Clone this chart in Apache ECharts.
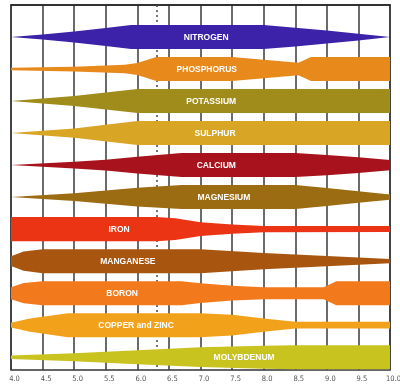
<!DOCTYPE html>
<html>
<head>
<meta charset="utf-8">
<script src="https://cdn.jsdelivr.net/npm/echarts@6/dist/echarts.min.js"></script>
<style>
html,body{margin:0;padding:0;background:#fff;}
#chart{width:400px;height:387px;}
</style>
</head>
<body>
<div id="chart"></div>
<script>
// Nutrient names (top to bottom)
const nutrients = ['NITROGEN','PHOSPHORUS','POTASSIUM','SULPHUR','CALCIUM','MAGNESIUM','IRON','MANGANESE','BORON','COPPER and ZINC','MOLYBDENUM'];
// pH tick labels
const phTicks = [4.0,4.5,5.0,5.5,6.0,6.5,7.0,7.5,8.0,8.5,9.0,9.5,10.0];
// Relative availability (band thickness, 0..1) at pH breakpoints: [pH, availability]
const nitrogen   = [[4.0,0],[4.5,0.2],[5.0,0.45],[5.5,0.75],[5.9,1],[8.0,1],[8.5,0.78],[9.0,0.55],[9.5,0.28],[10.0,0]];
const phosphorus = [[4.0,0.1],[5.0,0.2],[5.8,0.35],[6.0,0.5],[6.3,1],[7.5,1],[8.55,0.52],[8.75,1],[10.0,1]];
const potassium  = [[4.0,0],[5.0,0.42],[6.0,1],[10.0,1]];
const sulphur    = [[4.0,0],[5.0,0.38],[6.0,1],[10.0,1]];
const calcium    = [[4.0,0],[5.0,0.28],[5.5,0.45],[6.0,0.7],[6.7,1],[8.5,1],[9.0,0.85],[9.5,0.65],[10.0,0.42]];
const magnesium  = [[4.0,0],[5.0,0.33],[6.0,0.78],[6.7,1],[8.5,1],[9.0,0.75],[9.5,0.48],[10.0,0.22]];
const iron       = [[4.0,1],[6.3,1],[6.6,0.9],[7.0,0.57],[7.5,0.38],[8.0,0.27],[10.0,0.25]];
const manganese  = [[4.0,0.4],[4.2,0.8],[4.5,1],[7.0,1],[8.0,0.68],[9.0,0.42],[10.0,0.17]];
const boron      = [[4.0,0.5],[4.2,0.85],[4.5,1],[6.7,1],[7.0,0.82],[7.5,0.62],[8.0,0.5],[8.95,0.5],[9.15,1],[10.0,1]];
const copperZinc = [[4.0,0.2],[4.3,0.55],[4.9,1],[7.0,1],[7.5,0.87],[8.0,0.55],[8.5,0.28],[10.0,0.28]];
const molybdenum = [[4.0,0.15],[5.0,0.33],[6.0,0.58],[7.0,0.82],[8.0,0.96],[8.5,1],[10.0,1]];

const profiles = [nitrogen,phosphorus,potassium,sulphur,calcium,magnesium,iron,manganese,boron,copperZinc,molybdenum];
const colors = ['#3b22a8','#e8891c','#a08c1a','#d8a624','#a8121c','#9c6c12','#ea3414','#a8560f','#f27a1c','#f2a21a','#c9c31f'];
const labelPh = [7.09,7.1,7.17,7.23,7.25,7.37,5.71,5.85,5.76,5.98,7.69];
const HALF = 0.375; // half thickness of a full band in row units

const chart = echarts.init(document.getElementById('chart'), null, {renderer:'canvas'});

function renderBand(params, api){
  const i = params.dataIndex;
  const prof = profiles[i];
  const c = i + 1;
  const top = prof.map(p => api.coord([p[0], c - p[1]*HALF]));
  const bot = prof.slice().reverse().map(p => api.coord([p[0], c + p[1]*HALF]));
  const lp = api.coord([labelPh[i], c]);
  return {
    type:'group',
    children:[
      {type:'polygon', shape:{points: top.concat(bot)}, style:{fill: colors[i]}},
      {type:'text', style:{text: nutrients[i], x: lp[0], y: lp[1]+0.5, fill:'#fff',
        font:'bold 8.5px "Liberation Sans", Arial, sans-serif', align:'center', verticalAlign:'middle'}}
    ]
  };
}

chart.setOption({
  animation:false,
  backgroundColor:'#fff',
  grid:{left:11, right:10, top:5, bottom:17, containLabel:false, outerBoundsMode:'none',
    show:true, borderColor:'#333', borderWidth:1.5, backgroundColor:'transparent'},
  xAxis:{
    type:'value', min:4, max:10, interval:0.5,
    axisLine:{show:true, lineStyle:{color:'#222', width:1.5}},
    axisTick:{show:false},
    axisLabel:{show:true, color:'#555', fontSize:7.5, margin:5, padding:[0,0,0,7],
      fontFamily:'"DejaVu Sans Condensed", "Liberation Sans Narrow", sans-serif',
      formatter: v => { const t = phTicks.find(x => Math.abs(x-v) < 1e-6); return t === undefined ? '' : t.toFixed(1); }},
    splitLine:{show:true, lineStyle:{color:'#3a3a3a', width:1.5}}
  },
  yAxis:{
    type:'value', min:0, max:11.4, inverse:true,
    axisLine:{show:false}, axisTick:{show:false}, axisLabel:{show:false}, splitLine:{show:false}
  },
  series:[
    {
      type:'line', data:[], silent:true, z:1,
      markLine:{symbol:'none', silent:true, label:{show:false},
        lineStyle:{color:'#444', type:[2,3], width:1.5},
        data:[{xAxis:6.3}]}
    },
    {
      type:'custom', z:5, clip:true,
      renderItem: renderBand,
      data: nutrients.map((n,i) => [i])
    }
  ]
});
</script>
</body>
</html>
